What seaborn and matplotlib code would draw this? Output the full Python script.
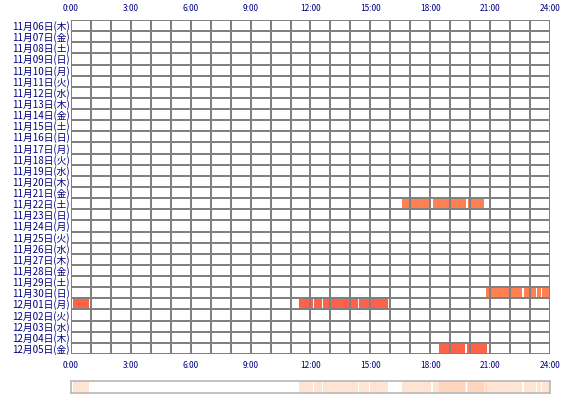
import numpy as np
import matplotlib
matplotlib.use("Agg")
import matplotlib.pyplot as plt
import seaborn as sns
import datetime as dt

sns.set_style("white")
plt.rcParams['font.family'] = ['Noto Sans CJK JP', 'DejaVu Sans']

# data: rows are days, segments in hours
start = dt.date(2025, 11, 6)
weekdays = ["月", "火", "水", "木", "金", "土", "日"]
days = [start + dt.timedelta(days=i) for i in range(30)]
day_labels = ["%02d月%02d日(%s)" % (d.month, d.day, weekdays[d.weekday()]) for d in days]

activity = {
    16: [(16.6, 18.05), (18.15, 19.8), (19.9, 20.7)],
    24: [(20.8, 22.6), (22.68, 23.28), (23.35, 23.55), (23.62, 24.0)],
    25: [(0.1, 0.9), (11.42, 12.12), (12.18, 12.57), (12.63, 14.37), (14.43, 14.91), (14.97, 15.87)],
    29: [(18.46, 19.73), (19.82, 20.86)],
}
row_colors = {16: "#ff8050", 24: "#ff8050", 25: "#ff6347", 29: "#ff6347"}
tick_hours = [0, 3, 6, 9, 12, 15, 18, 21, 24]
tick_labels = ["%d:00" % h for h in tick_hours]

fig = plt.figure(figsize=(5.7, 4.0), dpi=100)
ax = fig.add_axes([71/570, 1-354/400, 479/570, 334/400])
n = len(day_labels)
for row, segs in activity.items():
    for a, b in segs:
        ax.barh(row, b - a, left=a, height=0.8, color=row_colors[row], linewidth=0)

for h in range(25):
    ax.axvline(h, color="#808080", lw=1.4, zorder=3, antialiased=False)
for r in range(n + 1):
    ax.axhline(r - 0.5, color="#808080", lw=1.4, zorder=3, antialiased=False)
ax.set_xlim(0, 24)
ax.set_ylim(n - 0.5, -0.5)
ax.set_yticks(range(n))
ax.set_yticklabels(day_labels, fontsize=7, color="#000080")
ax.set_xticks(tick_hours)
ax.set_xticklabels(tick_labels, fontsize=6, color="#000080")
ax.tick_params(axis="x", top=True, labeltop=True, length=0, pad=5)
ax.tick_params(axis="y", length=0, pad=1)
for s in ax.spines.values():
    s.set_visible(False)

# summary strip
ax2 = fig.add_axes([71/570, 1-393/400, 479/570, 12/400])
for row, segs in activity.items():
    for a, b in segs:
        ax2.axvspan(a, b, color="#ffc8a8", alpha=0.5, lw=0)
ax2.set_xlim(0, 24)
ax2.set_ylim(0, 1)
ax2.set_xticks([])
ax2.set_yticks([])
for s in ax2.spines.values():
    s.set_color("#b8b8b8")
    s.set_linewidth(1.2)

fig.savefig("out.png", dpi=100)
